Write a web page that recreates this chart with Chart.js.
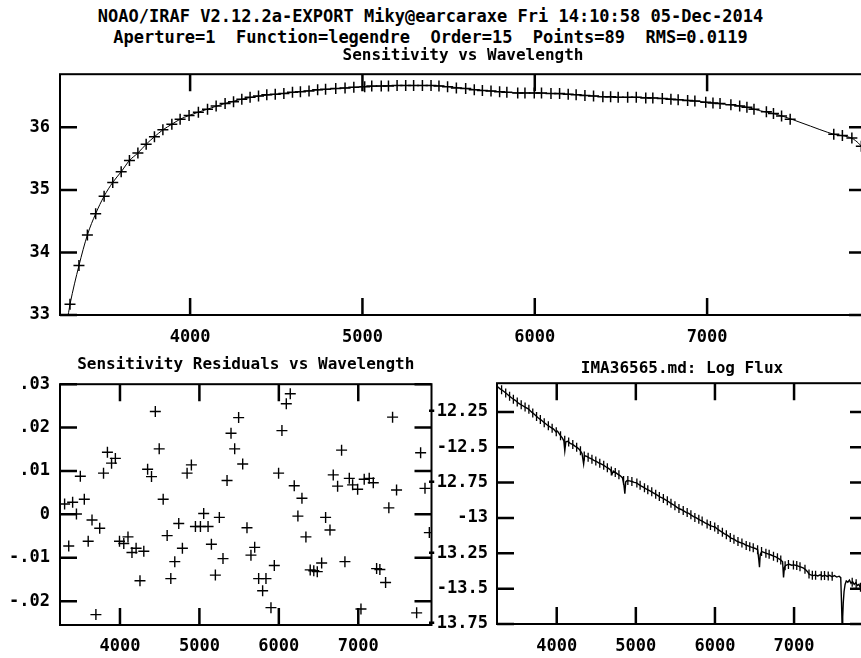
<!DOCTYPE html>
<html><head><meta charset="utf-8">
<script src="https://cdn.jsdelivr.net/npm/chart.js@4/dist/chart.umd.min.js"></script>
<style>
html,body{margin:0;padding:0;background:#fff;}
body{width:861px;height:658px;overflow:hidden;position:relative;}
.hdr{position:absolute;left:0;width:861px;text-align:center;font-family:"DejaVu Sans Mono",monospace;font-weight:bold;font-size:17px;line-height:20px;color:#000;white-space:pre;}
canvas{position:absolute;}
</style>
</head><body>
<div class="hdr" id="h1" style="top:6px"></div>
<div class="hdr" id="h2" style="top:27px"></div>
<canvas id="cA" width="875" height="345" style="left:0;top:0"></canvas>
<canvas id="cB" width="445" height="318" style="left:0;top:340px"></canvas>
<canvas id="cC" width="450" height="318" style="left:425px;top:340px"></canvas>
<script>
// ---------------- data ----------------
const headerLines = [
  "NOAO/IRAF V2.12.2a-EXPORT Miky@earcaraxe Fri 14:10:58 05-Dec-2014",
  "Aperture=1  Function=legendre  Order=15  Points=89  RMS=0.0119"
];
const titleSens = "Sensitivity vs Wavelength";
const titleResid = "Sensitivity Residuals vs Wavelength";
const titleFlux = "IMA36565.md: Log Flux";

const waveTicks = [4000, 5000, 6000, 7000];
const sensTicks = [33, 34, 35, 36];
const residTicks = [-0.02, -0.01, 0, 0.01, 0.02, 0.03];
const residTickLabels = ["-.02", "-.01", "0", ".01", ".02", ".03"];
const fluxTicks = [-13.75, -13.5, -13.25, -13, -12.75, -12.5, -12.25];
const fluxTickLabels = ["-13.75", "-13.5", "-13.25", "-13", "-12.75", "-12.5", "-12.25"];

// bandpass wavelengths (89 points)
const bandWave = [3303,3355,3404,3452,3501,3551,3600,3648,3697,3745,3793,3842,3894,3942,3994,4048,4101,4151,4203,4252,4300,4348,4397,4445,4494,
4544,4594,4640,4690,4740,4786,4845,
4899,4950,5013,5054,5109,5151,5201,5251,5297,5348,5398,5444,5494,5545,5599,5649,5696,5746,5796,5838,5901,5943,5997,6039,6094,6144,6194,6240,6291,6341,6395,
6440,6484,6539,6589,6644,6685,6740,6790,6832,6887,6929,6992,7034,7075,7138,7189,7231,7272,7344,7385,7432,7482,
7735,7785,7840,7895];
// sensitivity at each bandpass
const sensValue = [33.17,33.79,34.28,34.62,34.90,35.12,35.29,35.47,35.59,35.73,35.85,35.96,36.05,36.13,36.19,36.24,36.29,36.34,36.38,36.41,36.45,36.48,36.50,36.52,36.53,
36.54,36.56,36.57,36.58,36.60,36.61,36.62,
36.63,36.64,36.65,36.66,36.66,36.66,36.67,36.67,36.67,36.67,36.67,36.66,36.65,36.63,36.62,36.60,36.59,36.58,36.57,36.56,36.55,36.55,36.55,36.55,36.54,36.54,36.53,36.52,36.51,36.50,36.49,
36.49,36.48,36.48,36.48,36.47,36.47,36.46,36.45,36.44,36.43,36.42,36.40,36.39,36.38,36.36,36.34,36.32,36.29,36.25,36.22,36.18,36.13,
35.89,35.87,35.83,35.70];
// residuals at each bandpass
const residValue = [0.0024,-0.0073,0.0028,0.0001,0.0088,0.0035,-0.0062,-0.0013,-0.0231,-0.0032,0.0095,0.0143,0.0118,0.0129,-0.0062,-0.0067,-0.0052,-0.0088,-0.0078,-0.0153,-0.0085,0.0104,0.0087,0.0237,0.0151,
0.0035,-0.0049,-0.0148,-0.0109,-0.0021,-0.0078,0.0095,
0.0114,-0.0028,-0.0028,0.0002,-0.0028,-0.0069,-0.0140,-0.0007,-0.0102,0.0078,0.0187,0.0151,0.0223,0.0116,-0.0031,-0.0094,-0.0076,-0.0148,-0.0176,-0.0148,-0.0215,-0.0118,0.0095,0.0193,0.0255,0.0278,0.0066,-0.0004,0.0037,-0.0052,-0.0128,
-0.0130,-0.0132,-0.0112,-0.0007,-0.0036,0.0091,0.0065,0.0148,-0.0109,0.0083,0.0068,0.0058,-0.0218,0.0081,0.0083,0.0073,-0.0125,-0.0127,-0.0157,0.0015,0.0224,0.0056,
-0.0227,0.0142,0.0060,-0.0042];
// log flux of the standard at each bandpass
const bandFlux = [-12.093,-12.116,-12.139,-12.160,-12.180,-12.200,-12.216,-12.232,-12.258,-12.282,-12.303,-12.326,-12.348,-12.365,-12.390,-12.418,-12.450,-12.462,-12.481,-12.500,-12.525,-12.562,-12.570,-12.584,-12.598,
-12.614,-12.628,-12.645,-12.668,-12.678,-12.695,-12.735,
-12.736,-12.742,-12.753,-12.768,-12.787,-12.800,-12.815,-12.832,-12.848,-12.862,-12.879,-12.896,-12.913,-12.933,-12.948,-12.962,-12.978,-12.996,-13.010,-13.022,-13.042,-13.054,-13.064,-13.082,-13.102,-13.118,-13.138,-13.150,-13.167,-13.178,-13.194,
-13.203,-13.211,-13.225,-13.238,-13.249,-13.257,-13.270,-13.282,-13.297,-13.338,-13.330,-13.332,-13.337,-13.345,-13.362,-13.396,-13.405,-13.405,-13.408,-13.407,-13.410,-13.412,
-13.455,-13.465,-13.490,-13.500];

// fitted sensitivity curve
const fitWave = [3260,3292,3303,3355,3404,3452,3501,3551,3600,3648,3697,3745,3793,3842,3894,3942,3994,4100,4200,4300,4400,4500,4600,4700,4800,4900,5000,5100,5200,5300,5400,5500,5600,5700,5800,5900,6000,6100,6200,6300,6400,6500,6600,6700,6800,6900,7000,7100,7200,7300,7400,7500,7600,7700,7750,7800,7850,7900,7922];
const fitValue = [32.70,33.00,33.17,33.79,34.28,34.62,34.90,35.12,35.29,35.47,35.59,35.73,35.85,35.96,36.05,36.13,36.19,36.29,36.38,36.45,36.50,36.53,36.56,36.59,36.61,36.63,36.65,36.66,36.67,36.67,36.67,36.65,36.62,36.59,36.57,36.55,36.55,36.54,36.53,36.51,36.49,36.48,36.48,36.47,36.45,36.43,36.40,36.37,36.34,36.27,36.21,36.12,36.02,35.92,35.88,35.86,35.81,35.68,35.58];

// observed spectrum (log flux)
const specWave = [3245,3280,3320,3360,3400,3440,3480,3520,3560,3600,3640,3680,3720,3760,3800,3840,3880,3920,3960,3990,4010,4040,4070,4090,4102,4115,4140,4170,4200,4230,4260,4290,4320,4340,4352,4380,4410,4440,4470,4500,4530,4560,4590,4620,4650,4680,4700,4715,4740,4770,4800,4830,4850,4861,4872,4890,4920,4950,4980,5010,5040,5070,5100,5130,5160,5190,5220,5250,5280,5310,5340,5370,5400,5430,5460,5490,5520,5550,5580,5610,5640,5670,5700,5730,5760,5790,5820,5850,5880,5910,5940,5970,6000,6030,6060,6090,6120,6150,6180,6210,6240,6270,6300,6330,6360,6390,6420,6450,6480,6510,6540,6555,6563,6572,6590,6620,6650,6680,6710,6740,6770,6800,6830,6855,6867,6878,6890,6910,6940,6970,7000,7030,7060,7090,7120,7150,7170,7190,7210,7240,7270,7300,7330,7360,7390,7420,7450,7480,7510,7540,7570,7590,7600,7606,7615,7622,7632,7645,7660,7680,7700,7720,7740,7760,7780,7800,7820,7840,7860,7880,7900,7922];
const specFlux = [-12.068,-12.085,-12.100,-12.118,-12.137,-12.155,-12.170,-12.190,-12.203,-12.216,-12.228,-12.250,-12.268,-12.290,-12.306,-12.325,-12.343,-12.358,-12.372,-12.392,-12.386,-12.412,-12.434,-12.455,-12.525,-12.462,-12.458,-12.472,-12.480,-12.492,-12.503,-12.518,-12.545,-12.618,-12.560,-12.565,-12.575,-12.582,-12.592,-12.600,-12.610,-12.618,-12.626,-12.638,-12.648,-12.660,-12.690,-12.668,-12.678,-12.690,-12.700,-12.715,-12.770,-12.828,-12.745,-12.735,-12.738,-12.742,-12.748,-12.752,-12.765,-12.775,-12.784,-12.795,-12.803,-12.812,-12.822,-12.832,-12.842,-12.852,-12.860,-12.870,-12.880,-12.892,-12.902,-12.912,-12.925,-12.935,-12.942,-12.952,-12.962,-12.968,-12.980,-12.990,-12.998,-13.008,-13.018,-13.026,-13.036,-13.044,-13.054,-13.060,-13.064,-13.078,-13.090,-13.100,-13.112,-13.120,-13.132,-13.145,-13.150,-13.162,-13.170,-13.176,-13.182,-13.192,-13.198,-13.205,-13.210,-13.216,-13.225,-13.300,-13.348,-13.260,-13.238,-13.244,-13.250,-13.256,-13.262,-13.270,-13.275,-13.286,-13.296,-13.310,-13.420,-13.350,-13.338,-13.332,-13.328,-13.334,-13.332,-13.336,-13.342,-13.348,-13.355,-13.368,-13.380,-13.398,-13.402,-13.408,-13.404,-13.410,-13.402,-13.412,-13.405,-13.414,-13.406,-13.416,-13.408,-13.418,-13.412,-13.422,-13.600,-13.740,-13.700,-13.600,-13.520,-13.470,-13.445,-13.455,-13.440,-13.462,-13.450,-13.470,-13.458,-13.478,-13.470,-13.495,-13.488,-13.505,-13.498,-13.512];

const WMIN = 3245, WMAX = 7922;
// ---------------- drawing ----------------
const FONT = '"DejaVu Sans Mono", monospace';
document.getElementById('h1').textContent = headerLines[0];
document.getElementById('h2').textContent = headerLines[1];

const xy = (xs, ys) => xs.map((x, i) => ({x: x, y: ys[i]}));

const frameTicks = {
  id: 'frameTicks',
  afterDatasetsDraw(chart) {
    const {ctx, chartArea: a, scales} = chart;
    const L = 17;
    ctx.save();
    ctx.strokeStyle = '#000';
    ctx.lineWidth = 2.5;
    ctx.beginPath();
    scales.x.ticks.forEach(t => {
      const p = scales.x.getPixelForValue(t.value);
      ctx.moveTo(p, a.top); ctx.lineTo(p, a.top + L);
      ctx.moveTo(p, a.bottom); ctx.lineTo(p, a.bottom - L);
    });
    scales.y.ticks.forEach(t => {
      const p = scales.y.getPixelForValue(t.value);
      ctx.moveTo(a.left, p); ctx.lineTo(a.left + L, p);
      ctx.moveTo(a.right, p); ctx.lineTo(a.right - L, p);
    });
    ctx.stroke();
    ctx.lineWidth = 2;
    ctx.strokeRect(a.left, a.top, a.right - a.left, a.bottom - a.top);
    ctx.restore();
  }
};

function makeChart(id, c) {
  return new Chart(document.getElementById(id), {
    type: 'scatter',
    data: {datasets: c.datasets},
    options: {
      responsive: false, animation: false, events: [],
      layout: {padding: {top: c.padTop, right: c.padRight, bottom: 0, left: 0}},
      plugins: {
        legend: {display: false}, tooltip: {enabled: false},
        title: {display: true, text: c.title, fullSize: false, color: '#000',
          font: {family: FONT, size: 16, weight: 'bold'}, padding: {top: 0, bottom: c.titleGap}}
      },
      scales: {
        x: {type: 'linear', position: 'bottom', min: WMIN, max: WMAX,
          grid: {display: false, drawTicks: false}, border: {display: false},
          afterBuildTicks: s => { s.ticks = waveTicks.map(v => ({value: v})); },
          afterFit: s => { s.height = c.xHeight; },
          ticks: {color: '#000', font: {family: FONT, size: 17, weight: 'bold'}, padding: c.xPad,
            autoSkip: false, maxRotation: 0, minRotation: 0, callback: v => String(v)}},
        y: {type: 'linear', position: 'left', min: c.yMin, max: c.yMax,
          grid: {display: false, drawTicks: false}, border: {display: false},
          afterBuildTicks: s => { s.ticks = c.yTicks.map(v => ({value: v})); },
          afterFit: s => { s.width = c.yWidth; },
          ticks: {color: '#000', font: {family: FONT, size: 17, weight: 'bold'}, padding: c.yPad,
            autoSkip: false, callback: (v, i) => c.yLabels[i]}}
      }
    },
    plugins: [frameTicks]
  });
}

// top: sensitivity
makeChart('cA', {
  title: titleSens, padTop: 46, titleGap: 9, padRight: 9, xHeight: 30, xPad: 12,
  yWidth: 60, yPad: 10, yMin: 33, yMax: 36.85, yTicks: sensTicks, yLabels: sensTicks.map(String),
  datasets: [
    {data: xy(fitWave, fitValue), showLine: true, borderColor: '#000', borderWidth: 1,
     pointRadius: 0, cubicInterpolationMode: 'monotone'},
    {data: xy(bandWave, sensValue), showLine: false, pointStyle: 'cross', pointRadius: 5.5,
     borderColor: '#000', borderWidth: 1.5}
  ]
});

// bottom-left: residuals
makeChart('cB', {
  title: titleResid, padTop: 15, titleGap: 10, padRight: 13.5, xHeight: 33, xPad: 11,
  yWidth: 60, yPad: 10, yMin: -0.0255, yMax: 0.03, yTicks: residTicks, yLabels: residTickLabels,
  datasets: [
    {data: xy(bandWave, residValue), showLine: false, pointStyle: 'cross', pointRadius: 5.5,
     borderColor: '#000', borderWidth: 1.4}
  ]
});

// bottom-right: log flux
makeChart('cC', {
  title: titleFlux, padTop: 19, titleGap: 5, padRight: 8, xHeight: 34, xPad: 12,
  yWidth: 72, yPad: 9, yMin: -13.75, yMax: -12.047, yTicks: fluxTicks, yLabels: fluxTickLabels,
  datasets: [
    {data: xy(specWave, specFlux), showLine: true, borderColor: '#000', borderWidth: 1.4,
     pointRadius: 0, tension: 0},
    {data: xy(bandWave, bandFlux), showLine: false, pointStyle: 'line', rotation: 90, pointRadius: 4.5,
     borderColor: '#000', borderWidth: 1.3}
  ]
});
</script>
</body></html>
